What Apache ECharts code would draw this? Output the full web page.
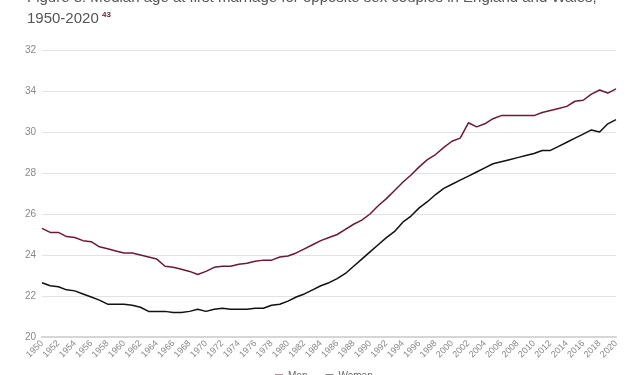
<!DOCTYPE html>
<html>
<head>
<meta charset="utf-8">
<script src="https://cdn.jsdelivr.net/npm/echarts@6/dist/echarts.min.js"></script>
<style>
html,body{margin:0;padding:0;background:#fff;}
#chart{width:634px;height:375px;}
</style>
</head>
<body>
<div id="chart"></div>
<script>
var years = [];
for (var y = 1950; y <= 2020; y++) years.push(String(y));

var men = [25.3,25.1,25.1,24.9,24.85,24.7,24.65,24.4,24.3,24.2,
24.1,24.1,24.0,23.9,23.8,23.45,23.4,23.3,23.2,23.05,
23.2,23.4,23.45,23.45,23.55,23.6,23.7,23.75,23.75,23.9,
23.95,24.1,24.3,24.5,24.7,24.85,25.0,25.25,25.5,25.7,
26.0,26.4,26.75,27.15,27.55,27.9,28.3,28.65,28.9,29.25,
29.55,29.7,30.45,30.25,30.4,30.65,30.8,30.8,30.8,30.8,
30.8,30.95,31.05,31.15,31.25,31.5,31.55,31.85,32.05,31.9,
32.1];

var women = [22.65,22.5,22.45,22.3,22.25,22.1,21.95,21.8,21.6,21.6,
21.6,21.55,21.45,21.25,21.25,21.25,21.2,21.2,21.25,21.35,
21.25,21.35,21.4,21.35,21.35,21.35,21.4,21.4,21.55,21.6,
21.75,21.95,22.1,22.3,22.5,22.65,22.85,23.1,23.45,23.8,
24.15,24.5,24.85,25.15,25.6,25.9,26.3,26.6,26.95,27.25,
27.45,27.65,27.85,28.05,28.25,28.45,28.55,28.65,28.75,28.85,
28.95,29.1,29.1,29.3,29.5,29.7,29.9,30.1,30.0,30.4,
30.6];

var yTickLabels = ['20','22','24','26','28','30','34','32'];
var seriesNames = ['Men','Women'];
var titleLine1 = 'Figure 8: Median age at first marriage for opposite sex couples in England and Wales,';
var titleLine2 = '1950-2020';
var footnote = '43';

var chart = echarts.init(document.getElementById('chart'), null, {renderer:'canvas'});
chart.setOption({
  animation:false,
  backgroundColor:'#fff',
  textStyle:{fontFamily:'Liberation Sans, Arial, sans-serif'},
  graphic:[
    {type:'text', left:27, top:-10, style:{text:titleLine1, font:'15px "Liberation Sans", Arial, sans-serif', fill:'#555'}},
    {type:'text', left:27, top:11, style:{text:titleLine2, font:'15px "Liberation Sans", Arial, sans-serif', fill:'#555'}},
    {type:'text', left:102, top:11, style:{text:footnote, font:'bold 8px "Liberation Sans", Arial, sans-serif', fill:'#6b1a36'}}
  ],
  legend:{
    data:seriesNames, left:270, top:366, icon:'rect', itemWidth:8, itemHeight:3, itemGap:18,
    textStyle:{fontSize:10, color:'#666'}
  },
  grid:{left:42, right:18, top:50, bottom:38, containLabel:false},
  xAxis:{
    type:'category', data:years, boundaryGap:false,
    axisLine:{show:true, lineStyle:{color:'#d6d6d6', width:2}},
    axisTick:{show:false},
    axisLabel:{interval:1, rotate:45, fontSize:9, color:'#888', margin:5}
  },
  yAxis:{
    type:'value', min:20, max:34, interval:2,
    axisLine:{show:false}, axisTick:{show:false},
    axisLabel:{fontSize:10, color:'#888', margin:6, formatter:function(v){return yTickLabels[Math.round((v-20)/2)];}},
    splitLine:{lineStyle:{color:'#e2e2e2', width:1}}
  },
  series:[
    {name:seriesNames[0], type:'line', data:men, symbol:'none', lineStyle:{color:'#6b1a36', width:1.5}, itemStyle:{color:'#6b1a36'}},
    {name:seriesNames[1], type:'line', data:women, symbol:'none', lineStyle:{color:'#111', width:1.5}, itemStyle:{color:'#111'}}
  ]
});
</script>
</body>
</html>
